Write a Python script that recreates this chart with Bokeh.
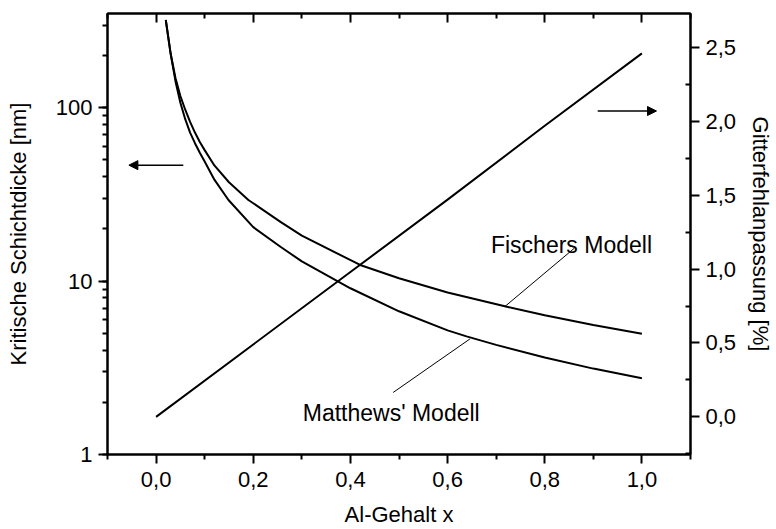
from bokeh.plotting import figure
from bokeh.models import (Range1d, LinearAxis, LinearScale, FixedTicker, CustomJSTickFormatter,
                          Arrow, NormalHead, Label)
from bokeh.embed import file_html
from bokeh.resources import INLINE

# --- data ---
x_matthews = [0.02, 0.03, 0.04, 0.05, 0.06, 0.07, 0.08, 0.09, 0.10, 0.12, 0.149, 0.20, 0.256, 0.30, 0.375, 0.40, 0.50, 0.60, 0.639, 0.70, 0.80, 0.90, 1.00]
h_matthews = [322, 205, 142, 107, 86, 72, 62.5, 55, 49, 38.5, 29.4, 20.5, 15.8, 13.0, 9.95, 9.1, 6.7, 5.2, 4.8, 4.29, 3.63, 3.13, 2.75]

x_fischer = [0.02, 0.03, 0.04, 0.05, 0.06, 0.07, 0.08, 0.09, 0.10, 0.12, 0.15, 0.19, 0.256, 0.30, 0.42, 0.50, 0.60, 0.72, 0.80, 0.90, 1.00]
h_fischer = [320, 205, 148, 117, 97.5, 83, 72, 63.5, 57, 46.5, 37.2, 29.4, 22.0, 18.3, 12.4, 10.4, 8.6, 7.14, 6.36, 5.58, 4.97]

x_mismatch = [0.0, 0.2, 0.4, 0.6, 0.8, 1.0]
mismatch = [0.0, 0.49, 0.98, 1.47, 1.97, 2.46]

x_ticks = [0.0, 0.2, 0.4, 0.6, 0.8, 1.0]
x_minor = [-0.1, 0.1, 0.3, 0.5, 0.7, 0.9, 1.1]
right_ticks = [0.0, 0.5, 1.0, 1.5, 2.0, 2.5]
right_minor = [-0.25, 0.25, 0.75, 1.25, 1.75, 2.25]

FONT = "Liberation Sans"
TICK_FS = "22px"
LABEL_FS = "22px"
ANN_FS = "23px"

p = figure(width=776, height=529, output_backend="svg", toolbar_location=None,
           y_axis_type="log", x_range=Range1d(-0.1, 1.1), y_range=Range1d(1, 350),
           min_border_left=107, min_border_right=85, min_border_top=13, min_border_bottom=74)
p.background_fill_color = "white"
p.border_fill_color = "white"
p.outline_line_color = "black"
p.outline_line_width = 2
p.xgrid.visible = False
p.ygrid.visible = False
p.extra_y_ranges = {"mis": Range1d(-0.255, 2.73)}
p.extra_y_scales = {"mis": LinearScale()}

def style(ax):
    ax.axis_line_width = 2
    ax.axis_line_color = "black"
    ax.major_tick_line_width = 2
    ax.minor_tick_line_width = 2
    ax.major_tick_line_color = "black"
    ax.minor_tick_line_color = "black"
    ax.major_label_text_font = FONT
    ax.major_label_text_font_size = TICK_FS
    ax.major_label_text_color = "black"
    ax.axis_label_text_font = FONT
    ax.axis_label_text_font_size = LABEL_FS
    ax.axis_label_text_font_style = "normal"
    ax.axis_label_text_color = "black"

comma = CustomJSTickFormatter(code="return tick.toFixed(1).replace('.', ',');")

# bottom axis
xa = p.xaxis[0]
style(xa)
xa.ticker = FixedTicker(ticks=x_ticks, minor_ticks=x_minor)
xa.formatter = comma
xa.major_tick_out = 9
xa.major_tick_in = 0
xa.minor_tick_out = 5
xa.minor_tick_in = 0
xa.axis_label = "Al-Gehalt x"
xa.major_label_standoff = 8
xa.axis_label_standoff = 12

# left log axis
ya = p.yaxis[0]
style(ya)
ya.ticker.desired_num_ticks = 3
ya.formatter = CustomJSTickFormatter(code="return tick.toFixed(0);")
ya.major_tick_out = 9
ya.major_tick_in = 0
ya.minor_tick_out = 5
ya.minor_tick_in = 0
ya.axis_label = "Kritische Schichtdicke [nm]"
ya.major_label_standoff = 6
ya.axis_label_standoff = 22

# top axis (ticks only, inward)
top = LinearAxis(ticker=FixedTicker(ticks=x_ticks, minor_ticks=x_minor),
                 formatter=CustomJSTickFormatter(code="return '';"))
style(top)
top.major_label_standoff = 0
top.major_tick_in = 9
top.major_tick_out = 0
top.minor_tick_in = 5
top.minor_tick_out = 0
p.add_layout(top, "above")

# right axis (mismatch)
ra = LinearAxis(y_range_name="mis", ticker=FixedTicker(ticks=right_ticks, minor_ticks=right_minor))
style(ra)
ra.formatter = comma
ra.major_tick_out = 9
ra.major_tick_in = 0
ra.minor_tick_in = 5
ra.minor_tick_out = 0
ra.axis_label = "Gitterfehlanpassung [%]"
ra.major_label_standoff = 6
ra.axis_label_standoff = 9
p.add_layout(ra, "right")

# curves
p.line(x_matthews, h_matthews, line_color="black", line_width=2)
p.line(x_fischer, h_fischer, line_color="black", line_width=2)
p.line(x_mismatch, mismatch, line_color="black", line_width=2, y_range_name="mis")

# arrows
p.add_layout(Arrow(x_start=0.056, y_start=46.7, x_end=-0.056, y_end=46.7, line_width=1.5,
                   end=NormalHead(size=9, fill_color="black", line_color="black")))
p.add_layout(Arrow(x_start=0.909, y_start=2.07, x_end=1.03, y_end=2.07, line_width=1.5,
                   y_range_name="mis",
                   end=NormalHead(size=9, fill_color="black", line_color="black")))

# leader lines
p.line([0.861, 0.718], [15.5, 7.14], line_color="black", line_width=1)
p.line([0.488, 0.646], [2.28, 4.64], line_color="black", line_width=1)

# annotations
p.add_layout(Label(x=0.855, y=16.2, text="Fischers Modell", text_align="center", text_baseline="alphabetic",
                   text_font=FONT, text_font_size=ANN_FS, text_color="black"))
p.add_layout(Label(x=0.484, y=1.745, text="Matthews' Modell", text_align="center", text_baseline="alphabetic",
                   text_font=FONT, text_font_size=ANN_FS, text_color="black"))

open("out.html", "w").write(file_html(p, INLINE))
